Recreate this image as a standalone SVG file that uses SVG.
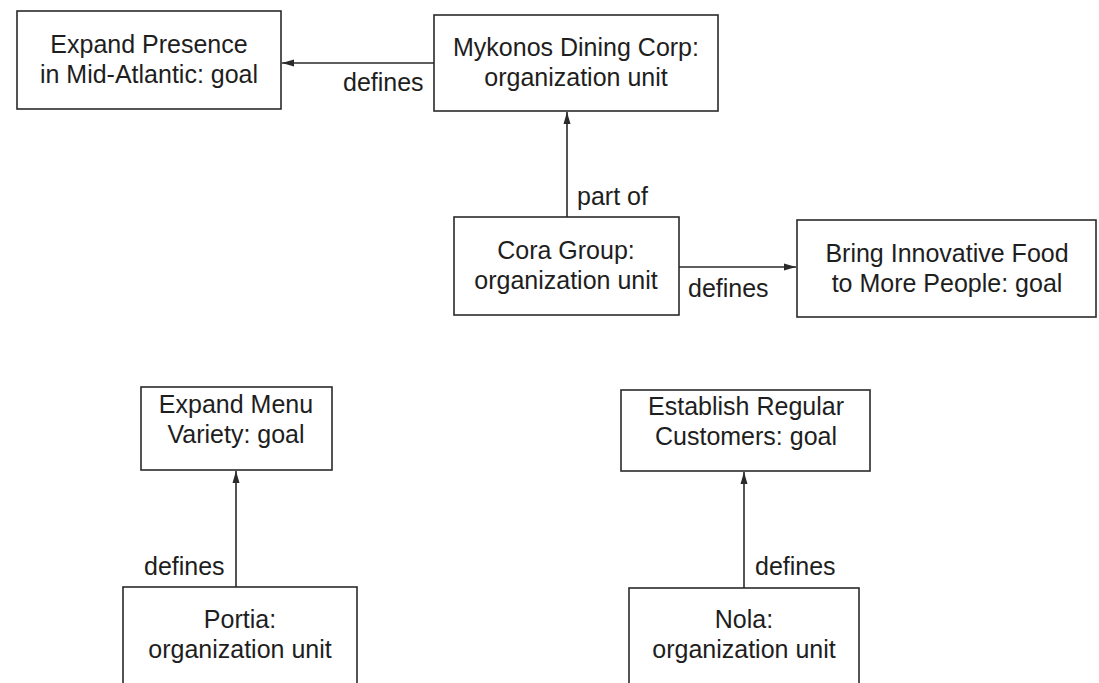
<svg xmlns="http://www.w3.org/2000/svg" width="1099" height="683" viewBox="0 0 1099 683">
<defs>
<style>
.box{fill:#fff;stroke:#2a2a2a;stroke-width:1.6}
.t{font-family:"Liberation Sans",Arial,sans-serif;font-size:25px;fill:#1e1e1e;text-anchor:middle}
.lbl{font-family:"Liberation Sans",Arial,sans-serif;font-size:25px;fill:#1e1e1e}
.c{fill:none;stroke:#2a2a2a;stroke-width:1.6}
</style>
<marker id="ah" viewBox="0 0 12 8" refX="12" refY="4" markerWidth="12" markerHeight="8" markerUnits="userSpaceOnUse" orient="auto">
<path d="M0,0.5 L12,4 L0,7.5 Z" fill="#2a2a2a"/>
</marker>
</defs>
<rect width="1099" height="683" fill="#fff"/>
<g id="connectors">
<line class="c" x1="434" y1="63" x2="282" y2="63" marker-end="url(#ah)"/>
<text class="lbl" x="343" y="91">defines</text>
<line class="c" x1="567" y1="217" x2="567" y2="112" marker-end="url(#ah)"/>
<text class="lbl" x="577" y="205">part of</text>
<line class="c" x1="679" y1="267" x2="796" y2="267" marker-end="url(#ah)"/>
<text class="lbl" x="688" y="297">defines</text>
<line class="c" x1="236" y1="587" x2="236" y2="471" marker-end="url(#ah)"/>
<text class="lbl" x="144" y="575">defines</text>
<line class="c" x1="744" y1="588" x2="744" y2="472" marker-end="url(#ah)"/>
<text class="lbl" x="755" y="575">defines</text>
</g>
<g id="expand-presence">
<rect class="box" x="17" y="11" width="264" height="98"/>
<text class="t" x="149" y="53">Expand Presence</text>
<text class="t" x="149" y="83">in Mid-Atlantic: goal</text>
</g>
<g id="mykonos">
<rect class="box" x="434" y="15" width="284" height="96"/>
<text class="t" x="576" y="56">Mykonos Dining Corp:</text>
<text class="t" x="576" y="86">organization unit</text>
</g>
<g id="cora">
<rect class="box" x="454" y="217" width="225" height="98"/>
<text class="t" x="566" y="259">Cora Group:</text>
<text class="t" x="566" y="289">organization unit</text>
</g>
<g id="bring">
<rect class="box" x="797" y="220" width="299" height="97"/>
<text class="t" x="947" y="262">Bring Innovative Food</text>
<text class="t" x="947" y="292">to More People: goal</text>
</g>
<g id="expand-menu">
<rect class="box" x="141" y="387" width="191" height="83"/>
<text class="t" x="236" y="413">Expand Menu</text>
<text class="t" x="236" y="443">Variety: goal</text>
</g>
<g id="establish">
<rect class="box" x="621" y="390" width="249" height="81"/>
<text class="t" x="746" y="415">Establish Regular</text>
<text class="t" x="746" y="445">Customers: goal</text>
</g>
<g id="portia">
<rect class="box" x="123" y="587" width="234" height="120"/>
<text class="t" x="240" y="628">Portia:</text>
<text class="t" x="240" y="658">organization unit</text>
</g>
<g id="nola">
<rect class="box" x="629" y="588" width="230" height="120"/>
<text class="t" x="744" y="628">Nola:</text>
<text class="t" x="744" y="658">organization unit</text>
</g>
</svg>
